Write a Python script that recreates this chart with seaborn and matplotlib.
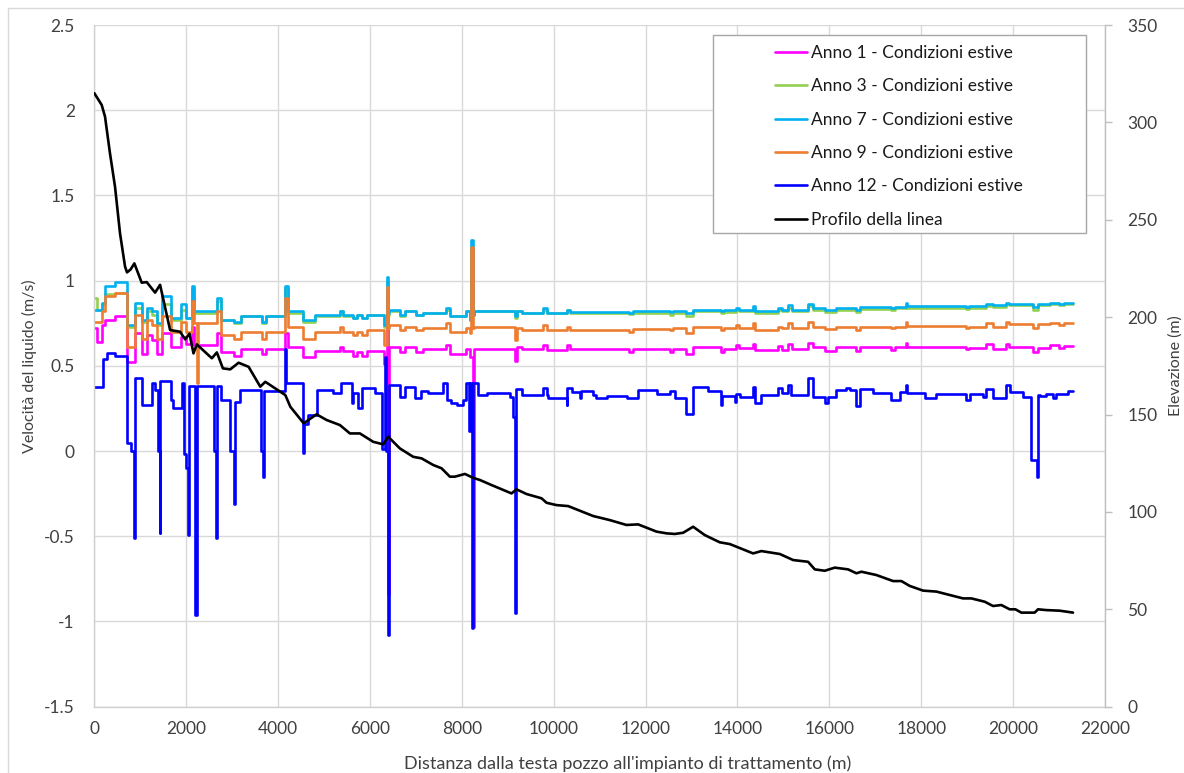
import matplotlib
matplotlib.use("Agg")
import matplotlib.pyplot as plt
from matplotlib.lines import Line2D
from matplotlib.patches import Rectangle
import seaborn as sns

# --- velocity series (m/s), step profile along the pipeline --------------
distanza_vel = [0, 50, 170, 230, 450, 720, 880, 1030, 1140, 1250, 1360, 1480, 1660, 1880,
                2000, 2120, 2160, 2240, 2260, 2680, 2760, 3050, 3190, 3650, 3740, 4160,
                4210, 4550, 4800, 5350, 5420, 5640, 5710, 5820, 5930, 6300, 6370, 6395,
                6415, 6650, 6760, 7010, 7160, 7660, 7740, 8100, 8170, 8210, 8235, 8255,
                9150, 9200, 9300, 9760, 9850, 10300, 10360, 11640, 11730, 12530, 12600,
                12890, 13030, 13640, 13700, 13960, 14030, 14340, 14380, 14880, 14960,
                15100, 15180, 15540, 15650, 15900, 16150, 16590, 16660, 17350, 17420,
                17670, 17700, 18980, 19050, 19410, 19560, 19850, 19920, 20440, 20540,
                20800, 21000, 21100, 21300]

anno1 = [0.72, 0.64, 0.74, 0.77, 0.79, 0.52, 0.69, 0.57, 0.68, 0.65, 0.57, 0.69, 0.61, 0.67,
         0.63, 0.73, 0.62, 0.62, 0.62, 0.69, 0.58, 0.56, 0.60, 0.57, 0.60, 0.69,
         0.61, 0.55, 0.59, 0.61, 0.59, 0.56, 0.58, 0.56, 0.59, 0.51, 0.90, -0.84,
         0.61, 0.58, 0.61, 0.58, 0.60, 0.62, 0.57, 0.60, 0.55, 0.55, -1.03, 0.60,
         0.53, 0.61, 0.60, 0.62, 0.595, 0.62, 0.60, 0.58, 0.60, 0.58, 0.60,
         0.57, 0.61, 0.58, 0.60, 0.62, 0.605, 0.63, 0.593, 0.615, 0.595,
         0.628, 0.597, 0.636, 0.61, 0.589, 0.61, 0.585, 0.61, 0.595, 0.61,
         0.635, 0.612, 0.60, 0.607, 0.627, 0.60, 0.63, 0.61, 0.58, 0.605,
         0.62, 0.605, 0.615, 0.615]

anno3 = [0.90, 0.83, 0.86, 0.92, 0.93, 0.73, 0.84, 0.76, 0.82, 0.80, 0.74, 0.86, 0.77, 0.83,
         0.78, 0.95, 0.81, 0.81, 0.81, 0.88, 0.77, 0.75, 0.79, 0.75, 0.79, 0.95,
         0.81, 0.76, 0.79, 0.82, 0.79, 0.78, 0.80, 0.78, 0.80, 0.73, 1.00, 0.80,
         0.82, 0.79, 0.82, 0.80, 0.81, 0.83, 0.79, 0.82, 0.77, 1.20, 0.80, 0.82,
         0.78, 0.82, 0.81, 0.83, 0.81, 0.83, 0.81, 0.805, 0.81, 0.80, 0.81,
         0.795, 0.82, 0.81, 0.815, 0.83, 0.82, 0.84, 0.81, 0.83, 0.82,
         0.84, 0.82, 0.85, 0.83, 0.815, 0.83, 0.815, 0.835, 0.825, 0.84,
         0.855, 0.84, 0.835, 0.84, 0.85, 0.845, 0.86, 0.855, 0.83, 0.855,
         0.86, 0.855, 0.865, 0.865]

anno7 = [0.83, 0.83, 0.87, 0.97, 0.99, 0.74, 0.87, 0.77, 0.84, 0.82, 0.75, 0.91, 0.78, 0.86,
         0.78, 0.97, 0.82, 0.82, 0.82, 0.90, 0.77, 0.76, 0.79, 0.76, 0.79, 0.97,
         0.82, 0.77, 0.80, 0.82, 0.80, 0.78, 0.80, 0.78, 0.80, 0.74, 1.02, 0.81,
         0.83, 0.80, 0.82, 0.80, 0.81, 0.84, 0.79, 0.82, 0.77, 1.24, 0.80, 0.82,
         0.79, 0.82, 0.81, 0.84, 0.81, 0.83, 0.815, 0.81, 0.82, 0.815, 0.82,
         0.81, 0.83, 0.82, 0.825, 0.84, 0.83, 0.85, 0.82, 0.84, 0.83,
         0.855, 0.83, 0.865, 0.84, 0.83, 0.84, 0.83, 0.845, 0.84, 0.845,
         0.87, 0.85, 0.845, 0.85, 0.865, 0.855, 0.87, 0.865, 0.845, 0.865,
         0.87, 0.865, 0.87, 0.87]

anno9 = [0.76, 0.76, 0.82, 0.91, 0.93, 0.61, 0.80, 0.66, 0.77, 0.74, 0.66, 0.79, 0.70, 0.76,
         0.70, 0.88, 0.75, 0.40, 0.75, 0.82, 0.68, 0.66, 0.70, 0.66, 0.70, 0.90,
         0.73, 0.655, 0.70, 0.73, 0.70, 0.68, 0.70, 0.68, 0.71, 0.62, 0.96, 0.72,
         0.74, 0.71, 0.73, 0.71, 0.72, 0.75, 0.70, 0.72, 0.69, 1.20, 0.72, 0.73,
         0.65, 0.72, 0.71, 0.74, 0.71, 0.73, 0.71, 0.70, 0.715, 0.71, 0.72,
         0.69, 0.73, 0.71, 0.72, 0.74, 0.72, 0.75, 0.71, 0.73, 0.72,
         0.75, 0.72, 0.76, 0.73, 0.715, 0.73, 0.71, 0.73, 0.72, 0.73,
         0.76, 0.735, 0.725, 0.73, 0.75, 0.73, 0.76, 0.745, 0.72, 0.745,
         0.75, 0.74, 0.75, 0.75]

distanza_a12 = [0, 200, 270, 450, 720, 790, 860, 880, 1030, 1250, 1330, 1380, 1420, 1440,
                1660, 1720, 1900, 1960, 2000, 2040, 2060, 2200, 2225, 2600, 2650, 2670,
                2760, 2960, 3050, 3070, 3180, 3620, 3670, 3690, 4150, 4170, 4540, 4560,
                4650, 4840, 5200, 5380, 5600, 5630, 5740, 5820, 6100, 6270, 6330, 6350,
                6390, 6410, 6650, 6760, 6980, 7120, 7270, 7595, 7670, 7775, 7885, 8030,
                8100, 8150, 8180, 8225, 8245, 8350, 8540, 9040, 9120, 9160, 9185, 9300,
                9770, 9845, 9880, 10280, 10300, 10390, 10570, 10600, 10860, 10930, 11150,
                11585, 11840, 12240, 12530, 12640, 12890, 13040, 13350, 13640, 13670,
                13940, 13975, 14050, 14340, 14380, 14520, 14885, 14960, 15100, 15175,
                15540, 15650, 15900, 15970, 16150, 16370, 16440, 16590, 16660, 16950,
                17350, 17530, 17670, 17700, 18075, 18330, 18980, 19055, 19345, 19415,
                19560, 19850, 19925, 20215, 20400, 20520, 20545, 20580, 20720, 20870,
                20940, 21200, 21300]

anno12 = [0.378, 0.54, 0.578, 0.56, 0.05, 0.0, -0.51, 0.43, 0.27, 0.40, 0.36, 0.0, -0.48, 0.41,
          0.30, 0.25, 0.40, -0.02, -0.10, -0.49, 0.38, -0.96, 0.38, 0.0, -0.51, 0.38,
          0.30, 0.0, -0.31, 0.29, 0.36, 0.0, -0.15, 0.35, 0.60, 0.40, -0.01, 0.16,
          0.21, 0.36, 0.34, 0.40, 0.28, 0.34, 0.25, 0.37, 0.34, 0.01, 0.55, 0.0,
          -1.08, 0.39, 0.32, 0.378, 0.31, 0.35, 0.34, 0.40, 0.30, 0.28, 0.27, 0.30,
          0.40, 0.12, 0.40, -1.04, 0.40, 0.33, 0.34, 0.32, 0.20, -0.95, 0.362, 0.329,
          0.368, 0.33, 0.313, 0.27, 0.368, 0.348, 0.313, 0.354, 0.33, 0.313, 0.322,
          0.309, 0.358, 0.335, 0.354, 0.309, 0.22, 0.374, 0.355, 0.27, 0.322,
          0.29, 0.334, 0.319, 0.378, 0.28, 0.329, 0.368, 0.338, 0.39, 0.33,
          0.426, 0.319, 0.28, 0.319, 0.358, 0.368, 0.358, 0.264, 0.362, 0.338,
          0.299, 0.348, 0.387, 0.338, 0.309, 0.334, 0.299, 0.334, 0.32, 0.366,
          0.309, 0.387, 0.348, 0.32, -0.05, -0.15, 0.33, 0.323, 0.335, 0.31,
          0.335, 0.35, 0.35]

# --- line elevation profile (m) -------------------------------------------
distanza_prof = [0, 160, 233, 342, 451, 560, 669, 712, 790, 872, 1032, 1141, 1323, 1432, 1650,
                 1868, 1977, 2072, 2159, 2232, 2559, 2668, 2799, 2959, 3141, 3359, 3613, 3722,
                 4049, 4158, 4267, 4558, 4838, 5056, 5346, 5564, 5781, 6071, 6289, 6398,
                 6652, 6942, 7124, 7377, 7559, 7740, 7848, 8067, 8248, 8393, 8647, 9082,
                 9191, 9408, 9735, 9844, 10061, 10315, 10496, 10859, 11222, 11584, 11838,
                 12237, 12455, 12636, 12817, 13035, 13289, 13615, 13833, 14014, 14340,
                 14521, 14921, 15211, 15537, 15683, 15900, 16118, 16408, 16589, 16698,
                 17024, 17387, 17568, 17750, 18040, 18330, 18910, 19091, 19382, 19563,
                 19744, 19925, 20050, 20179, 20469, 20542, 20723, 21013, 21304]

quota = [315, 309, 303, 284, 267, 243, 226, 223, 224.5, 227.6, 217.7, 218, 212.6, 216.6, 193.4,
         192.5, 188.6, 191.5, 181.4, 186, 178.9, 181.9, 173.7, 173.2, 176.6, 174.5, 164.3, 166.8,
         161.7, 160, 154, 145.5, 150.1, 147.2, 144.6, 140.3, 140.3, 136, 134.7, 138.6,
         132.6, 128.3, 127.5, 124.1, 122.4, 118.1, 118.1, 119.5, 117.5, 116.4, 113.8, 109.5,
         111.6, 109.2, 107, 104.7, 103.5, 103, 101.3, 97.9, 95.8, 93.3, 93.6,
         89.9, 89, 88.7, 89.3, 92.4, 88.1, 84.4, 83.5, 81.8, 78.7,
         79.9, 78.4, 75.3, 74.4, 70.5, 69.8, 71.4, 70.5, 68.5, 69.3,
         67.6, 64.5, 64.5, 62, 59.6, 59.1, 55.6, 55.6, 53.9, 51.7,
         52.2, 50, 50, 48.3, 48.3, 50, 49.6, 49.3, 48.3]

etichette = ["Anno 1 - Condizioni estive", "Anno 3 - Condizioni estive",
             "Anno 7 - Condizioni estive", "Anno 9 - Condizioni estive",
             "Anno 12 - Condizioni estive", "Profilo della linea"]
colori = ["#FF00FF", "#92D050", "#00B0F0", "#ED7D31", "#0000FF", "#000000"]

sns.set_theme(style="white")
plt.rcParams["font.family"] = ["Lato", "DejaVu Sans"]
testo = "#404040"

W, H = 1184, 773
fig = plt.figure(figsize=(W / 100, H / 100), dpi=100)
ax = fig.add_axes([94.3 / W, 1 - 706.7 / H, (1105 - 94.3) / W, (706.7 - 25) / H])
ax2 = ax.twinx()

lw = 1.9
serie = [anno1, anno3, anno7, anno9]
for vals, lab, col in zip(serie, etichette[:4], colori[:4]):
    sns.lineplot(x=distanza_vel, y=vals, ax=ax, color=col, linewidth=lw,
                 drawstyle="steps-post", estimator=None, sort=False, label=lab)
sns.lineplot(x=distanza_a12, y=anno12, ax=ax, color=colori[4], linewidth=lw,
             drawstyle="steps-post", estimator=None, sort=False, label=etichette[4])
sns.lineplot(x=distanza_prof, y=quota, ax=ax2, color=colori[5], linewidth=lw,
             estimator=None, sort=False, label=etichette[5])

for a in (ax, ax2):
    if a.get_legend() is not None:
        a.get_legend().remove()

ax.set_xlim(0, 22000)
ax.set_ylim(-1.5, 2.5)
ax.set_xticks(range(0, 22001, 2000))
ax.set_yticks([-1.5, -1, -0.5, 0, 0.5, 1, 1.5, 2, 2.5])
ax.set_yticklabels(["-1.5", "-1", "-0.5", "0", "0.5", "1", "1.5", "2", "2.5"])
ax2.set_ylim(0, 350)
ax2.set_yticks(range(0, 351, 50))

ax.grid(True, color="#d9d9d9", linewidth=1.0)
ax.set_axisbelow(True)
for s in ("top", "right"):
    ax.spines[s].set_visible(False)
for s in ("left", "bottom"):
    ax.spines[s].set_color("#d0d0d0")
    ax.spines[s].set_linewidth(1.0)
for s in ("top", "left", "bottom"):
    ax2.spines[s].set_visible(False)
ax2.spines["right"].set_color("#bfbfbf")
ax2.spines["right"].set_linewidth(1.0)

ax.tick_params(axis="y", length=0, labelsize=12.5, colors=testo, pad=14)
ax.tick_params(axis="x", length=0, labelsize=12.5, colors=testo, pad=10)
ax2.tick_params(axis="y", length=5, width=1, color="#bfbfbf", direction="out",
                labelsize=12.5, labelcolor=testo, pad=11)
ax2.grid(False)

ax.set_xlabel("Distanza dalla testa pozzo all'impianto di trattamento (m)",
              fontsize=13, color=testo)
ax.xaxis.set_label_coords(0.528, -0.072)
ax.set_ylabel("Velocità del liquido (m/s)", fontsize=11.5, color=testo, labelpad=5)
ax2.set_ylabel("Elevazione (m)", fontsize=11.5, color=testo, labelpad=8)

# legend box and entries
fig.add_artist(Rectangle((713 / W, 1 - 233 / H), (1086 - 713) / W, (233 - 35) / H,
                         transform=fig.transFigure, facecolor="white",
                         edgecolor="#a6a6a6", linewidth=1.0, zorder=4))
maniglie = [Line2D([0], [0], color=c, linewidth=lw) for c in colori]
leg = fig.legend(maniglie, etichette, loc="upper left",
                 bbox_to_anchor=(775 / W, 1 - 45 / H), bbox_transform=fig.transFigure,
                 fontsize=12.5, frameon=False, handlelength=1.85, handletextpad=0.25,
                 labelspacing=1.0, borderpad=0, borderaxespad=0)
leg.set_zorder(5)
for t in leg.get_texts():
    t.set_color("#1a1a1a")

# light chart-area border
fig.add_artist(Line2D([8 / W, 1.0], [1 - 8 / H, 1 - 8 / H], color="#d9d9d9",
                      linewidth=1.0, transform=fig.transFigure))
fig.add_artist(Line2D([8 / W, 8 / W], [1 - 8 / H, 0], color="#d9d9d9",
                      linewidth=1.0, transform=fig.transFigure))

fig.savefig("out.png", dpi=100, facecolor="white")
